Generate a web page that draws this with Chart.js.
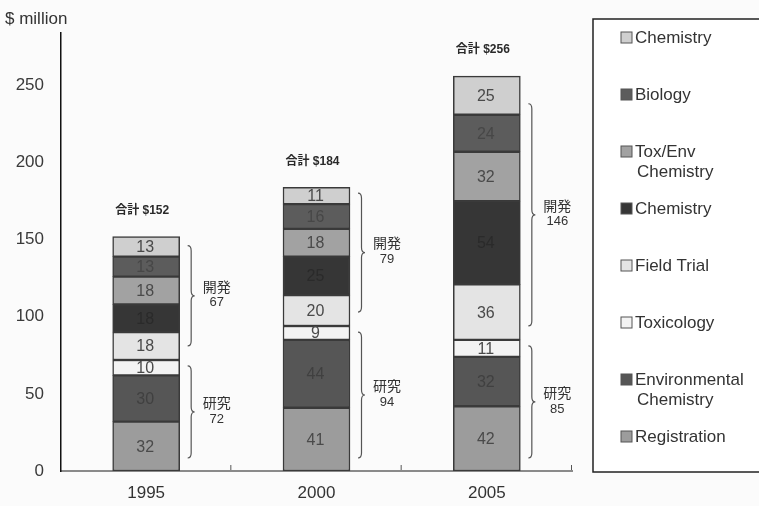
<!DOCTYPE html>
<html lang="ja">
<head>
<meta charset="UTF-8">
<title>研究開発費</title>
<style>
    html, body {
        margin: 0;
        padding: 0;
        background: #fbfbfb;
        overflow: hidden;
    }
    #wrap {
        width: 759px;
        height: 506px;
        position: relative;
    }
</style>
</head>
<body>
<div id="wrap"><canvas id="chart" width="759" height="506"></canvas></div>

<script src="https://cdn.jsdelivr.net/npm/chart.js"></script>
<script>
// 年ごとの費用 ($ million)、下から順に積み上げ
var years = ['1995', '2000', '2005'];
var registration = [32, 41, 42];
var envChemistry = [30, 44, 32];
var toxicology = [10, 9, 11];
var fieldTrial = [18, 20, 36];
var chemistryDev = [18, 25, 54];
var toxEnvChemistry = [18, 18, 32];
var biology = [13, 16, 24];
var chemistryTop = [13, 11, 25];
var yTicks = [0, 50, 100, 150, 200, 250];

var FONT = '"Liberation Sans", Arial, "Noto Sans CJK JP", sans-serif';
var CJK = '"Liberation Sans", "Noto Sans CJK JP", sans-serif';

var series = [
    { label: 'Registration', data: registration, color: '#9c9c9c', text: '#4a4a4a' },
    { label: 'Environmental\nChemistry', data: envChemistry, color: '#565656', text: '#404040' },
    { label: 'Toxicology', data: toxicology, color: '#f3f3f3', text: '#4a4a4a' },
    { label: 'Field Trial', data: fieldTrial, color: '#e4e4e4', text: '#4a4a4a' },
    { label: 'Chemistry', data: chemistryDev, color: '#363636', text: '#2a2a2a' },
    { label: 'Tox/Env\nChemistry', data: toxEnvChemistry, color: '#a2a2a2', text: '#4a4a4a' },
    { label: 'Biology', data: biology, color: '#5c5c5c', text: '#474747' },
    { label: 'Chemistry', data: chemistryTop, color: '#cfcfcf', text: '#4a4a4a' }
];

function sumOf(arrays, i) {
    return arrays.reduce(function (s, a) { return s + a[i]; }, 0);
}

// 数値・括弧・合計・凡例を描くプラグイン
var annotations = {
    id: 'annotations',
    afterDatasetsDraw: function (chart) {
        var ctx = chart.ctx;
        var ys = chart.scales.y;
        var xs = chart.scales.x;
        ctx.save();

        // 各セグメントの数値
        ctx.textAlign = 'center';
        ctx.textBaseline = 'middle';
        ctx.font = '16px ' + FONT;
        chart.data.datasets.forEach(function (ds, d) {
            var meta = chart.getDatasetMeta(d);
            meta.data.forEach(function (bar, i) {
                ctx.fillStyle = series[d].text;
                ctx.fillText(String(ds.data[i]), bar.x - 1, (bar.y + bar.base) / 2 + 1);
            });
        });

        // x軸の区切り目盛
        ctx.strokeStyle = '#555';
        ctx.lineWidth = 1;
        var bottom = chart.chartArea.bottom;
        for (var k = 1; k <= years.length; k++) {
            var bx = xs.left + (xs.right - xs.left) * k / years.length - 0.5;
            ctx.beginPath();
            ctx.moveTo(bx, bottom - 1);
            ctx.lineTo(bx, bottom - 6);
            ctx.stroke();
        }

        // 研究・開発の括弧と合計
        var meta0 = chart.getDatasetMeta(0);
        years.forEach(function (yr, i) {
            var bar = meta0.data[i];
            var right = bar.x + bar.width / 2;
            var research = sumOf([registration, envChemistry, toxicology], i);
            var dev = sumOf([fieldTrial, chemistryDev, toxEnvChemistry, biology], i);
            var total = research + dev + chemistryTop[i];

            var r1 = ys.getPixelForValue(research) + 6;
            var r2 = ys.getPixelForValue(0) - 13;
            var d1 = ys.getPixelForValue(research + dev) - 11;
            var d2 = ys.getPixelForValue(research) - 14;
            drawBrace(ctx, right + 8, r1, r2);
            drawBrace(ctx, right + 8, d1, d2);

            ctx.fillStyle = '#333';
            ctx.textAlign = 'center';
            ctx.font = '14px ' + CJK;
            ctx.fillText('開発', right + 37, (d1 + d2) / 2 - 8);
            ctx.fillText('研究', right + 37, (r1 + r2) / 2 - 8);
            ctx.font = '13px ' + FONT;
            ctx.fillText(String(dev), right + 37, (d1 + d2) / 2 + 7);
            ctx.fillText(String(research), right + 37, (r1 + r2) / 2 + 7);

            ctx.font = 'bold 12px ' + CJK;
            ctx.fillStyle = '#2a2a2a';
            ctx.fillText('合計 $' + total, bar.x - 4, ys.getPixelForValue(total) - 26);
        });

        // "$ million"
        ctx.textAlign = 'left';
        ctx.font = '17px ' + FONT;
        ctx.fillStyle = '#333';
        ctx.fillText('$ million', 5, 19);

        drawLegend(ctx);
        ctx.restore();
    }
};

function drawBrace(ctx, x, y1, y2) {
    var w = 7, r = 5;
    var mid = (y1 + y2) / 2;
    var cx = x + w / 2;
    ctx.strokeStyle = '#555';
    ctx.lineWidth = 1.2;
    ctx.beginPath();
    ctx.moveTo(x, y1);
    ctx.quadraticCurveTo(cx, y1, cx, y1 + r);
    ctx.lineTo(cx, mid - r);
    ctx.quadraticCurveTo(cx, mid, x + w, mid);
    ctx.quadraticCurveTo(cx, mid, cx, mid + r);
    ctx.lineTo(cx, y2 - r);
    ctx.quadraticCurveTo(cx, y2, x, y2);
    ctx.stroke();
}

function drawLegend(ctx) {
    var left = 593, top = 19, bottom = 472;
    ctx.fillStyle = '#ffffff';
    ctx.fillRect(left, top, 800 - left, bottom - top);
    ctx.strokeStyle = '#222';
    ctx.lineWidth = 1.5;
    ctx.strokeRect(left, top, 800 - left, bottom - top);

    ctx.font = '17px ' + FONT;
    ctx.textAlign = 'left';
    ctx.textBaseline = 'middle';
    var items = series.slice().reverse();
    items.forEach(function (s, i) {
        var y = top + 19 + i * 57;
        ctx.fillStyle = s.color;
        ctx.fillRect(621, y - 6, 11, 11);
        ctx.strokeStyle = '#555';
        ctx.lineWidth = 1;
        ctx.strokeRect(621, y - 6, 11, 11);
        ctx.fillStyle = '#333';
        s.label.split('\n').forEach(function (line, j) {
            ctx.fillText(line, j === 0 ? 635 : 637, y + j * 20);
        });
    });
}

new Chart(document.getElementById('chart'), {
    type: 'bar',
    data: {
        labels: years,
        datasets: series.map(function (s) {
            return {
                label: s.label,
                data: s.data,
                backgroundColor: s.color,
                borderColor: '#3a3a3a',
                borderWidth: 1.5,
                borderSkipped: false,
                barThickness: 67
            };
        })
    },
    options: {
        responsive: false,
        animation: false,
        devicePixelRatio: 1,
        layout: { padding: { top: 33, right: 187, left: 0, bottom: 0 } },
        plugins: {
            legend: { display: false },
            tooltip: { enabled: false }
        },
        scales: {
            x: {
                stacked: true,
                grid: { display: false },
                border: { color: '#8a8a8a', width: 2 },
                ticks: {
                    color: '#333',
                    font: { family: FONT, size: 17 },
                    padding: 4
                },
                afterFit: function (scale) { scale.height = 35; }
            },
            y: {
                stacked: true,
                min: 0,
                max: 284,
                grid: { display: false },
                border: { color: '#111', width: 1.5 },
                afterBuildTicks: function (scale) {
                    scale.ticks = yTicks.map(function (v) { return { value: v }; });
                },
                ticks: {
                    color: '#3a3a3a',
                    font: { family: FONT, size: 17 },
                    padding: 9
                },
                afterFit: function (scale) { scale.width = 61; }
            }
        }
    },
    plugins: [annotations]
});
</script>
</body>
</html>
